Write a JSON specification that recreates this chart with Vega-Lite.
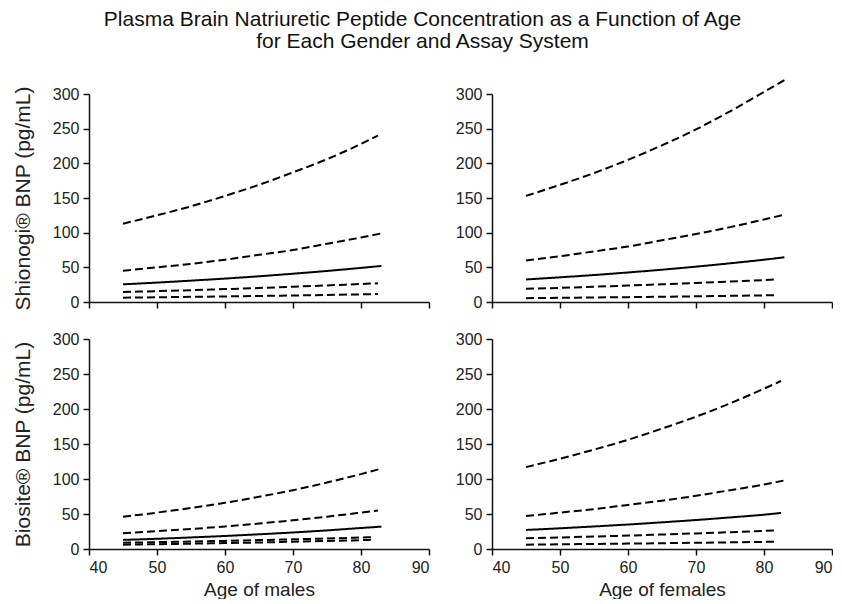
{
  "$schema": "https://vega.github.io/schema/vega-lite/v6.json",
  "padding": {"left": 12, "top": 9, "right": 0, "bottom": 0},
  "background": "white",
  "title": {
    "text": ["Plasma Brain Natriuretic Peptide Concentration as a Function of Age", "for Each Gender and Assay System"],
    "font": "Liberation Sans", "fontSize": 21, "fontWeight": "normal", "color": "#111",
    "anchor": "middle", "frame": "bounds", "lineHeight": 22, "offset": 24
  },
  "config": {
    "view": {"stroke": null},
    "axis": {
      "grid": false, "domainColor": "#111", "domainWidth": 1.5, "tickColor": "#111", "tickWidth": 1.5, "tickSize": 6,
      "labelColor": "#222", "labelFont": "Liberation Sans", "labelFontSize": 16, "labelPadding": 4,
      "titleFont": "Liberation Sans", "titleFontWeight": "normal", "titleColor": "#222"
    }
  },
  "data": {"values": [
    {"panel":"TL","s":"p5","age":45,"v":113},{"panel":"TL","s":"p5","age":50,"v":125},{"panel":"TL","s":"p5","age":55,"v":138},{"panel":"TL","s":"p5","age":60,"v":153},{"panel":"TL","s":"p5","age":65,"v":169},{"panel":"TL","s":"p5","age":70,"v":187},{"panel":"TL","s":"p5","age":75,"v":206},{"panel":"TL","s":"p5","age":80,"v":228},{"panel":"TL","s":"p5","age":82.5,"v":240},
    {"panel":"TL","s":"p4","age":45,"v":45},{"panel":"TL","s":"p4","age":50,"v":50},{"panel":"TL","s":"p4","age":55,"v":55},{"panel":"TL","s":"p4","age":60,"v":61},{"panel":"TL","s":"p4","age":65,"v":68},{"panel":"TL","s":"p4","age":70,"v":75},{"panel":"TL","s":"p4","age":75,"v":84},{"panel":"TL","s":"p4","age":80,"v":93},{"panel":"TL","s":"p4","age":83,"v":99},
    {"panel":"TL","s":"p3","age":45,"v":25.5},{"panel":"TL","s":"p3","age":50,"v":28},{"panel":"TL","s":"p3","age":55,"v":30.8},{"panel":"TL","s":"p3","age":60,"v":33.8},{"panel":"TL","s":"p3","age":65,"v":37.1},{"panel":"TL","s":"p3","age":70,"v":40.8},{"panel":"TL","s":"p3","age":75,"v":44.8},{"panel":"TL","s":"p3","age":80,"v":49.2},{"panel":"TL","s":"p3","age":83,"v":52},
    {"panel":"TL","s":"p2","age":45,"v":14.4},{"panel":"TL","s":"p2","age":50,"v":15.7},{"panel":"TL","s":"p2","age":55,"v":17},{"panel":"TL","s":"p2","age":60,"v":18.6},{"panel":"TL","s":"p2","age":65,"v":20.2},{"panel":"TL","s":"p2","age":70,"v":22},{"panel":"TL","s":"p2","age":75,"v":23.9},{"panel":"TL","s":"p2","age":80,"v":26},{"panel":"TL","s":"p2","age":82.5,"v":27},
    {"panel":"TL","s":"p1","age":45,"v":6.3},{"panel":"TL","s":"p1","age":50,"v":6.8},{"panel":"TL","s":"p1","age":55,"v":7.4},{"panel":"TL","s":"p1","age":60,"v":8},{"panel":"TL","s":"p1","age":65,"v":8.7},{"panel":"TL","s":"p1","age":70,"v":9.4},{"panel":"TL","s":"p1","age":75,"v":10.2},{"panel":"TL","s":"p1","age":80,"v":11},{"panel":"TL","s":"p1","age":82.5,"v":11.5},

    {"panel":"TR","s":"p5","age":45,"v":153},{"panel":"TR","s":"p5","age":50,"v":169},{"panel":"TR","s":"p5","age":55,"v":186},{"panel":"TR","s":"p5","age":60,"v":205},{"panel":"TR","s":"p5","age":65,"v":226},{"panel":"TR","s":"p5","age":70,"v":249},{"panel":"TR","s":"p5","age":75,"v":275},{"panel":"TR","s":"p5","age":80,"v":303},{"panel":"TR","s":"p5","age":83,"v":320},
    {"panel":"TR","s":"p4","age":45,"v":60},{"panel":"TR","s":"p4","age":50,"v":66},{"panel":"TR","s":"p4","age":55,"v":73},{"panel":"TR","s":"p4","age":60,"v":80},{"panel":"TR","s":"p4","age":65,"v":89},{"panel":"TR","s":"p4","age":70,"v":98},{"panel":"TR","s":"p4","age":75,"v":108},{"panel":"TR","s":"p4","age":80,"v":119},{"panel":"TR","s":"p4","age":83,"v":126},
    {"panel":"TR","s":"p3","age":45,"v":32.5},{"panel":"TR","s":"p3","age":50,"v":35.6},{"panel":"TR","s":"p3","age":55,"v":38.9},{"panel":"TR","s":"p3","age":60,"v":42.6},{"panel":"TR","s":"p3","age":65,"v":46.6},{"panel":"TR","s":"p3","age":70,"v":51},{"panel":"TR","s":"p3","age":75,"v":55.8},{"panel":"TR","s":"p3","age":80,"v":61},{"panel":"TR","s":"p3","age":83,"v":64.5},
    {"panel":"TR","s":"p2","age":45,"v":19},{"panel":"TR","s":"p2","age":50,"v":20.4},{"panel":"TR","s":"p2","age":55,"v":22},{"panel":"TR","s":"p2","age":60,"v":23.7},{"panel":"TR","s":"p2","age":65,"v":25.5},{"panel":"TR","s":"p2","age":70,"v":27.4},{"panel":"TR","s":"p2","age":75,"v":29.5},{"panel":"TR","s":"p2","age":80,"v":31.7},{"panel":"TR","s":"p2","age":82,"v":33},
    {"panel":"TR","s":"p1","age":45,"v":5.5},{"panel":"TR","s":"p1","age":50,"v":6},{"panel":"TR","s":"p1","age":55,"v":6.5},{"panel":"TR","s":"p1","age":60,"v":7},{"panel":"TR","s":"p1","age":65,"v":7.6},{"panel":"TR","s":"p1","age":70,"v":8.2},{"panel":"TR","s":"p1","age":75,"v":8.9},{"panel":"TR","s":"p1","age":80,"v":9.6},{"panel":"TR","s":"p1","age":82,"v":10},

    {"panel":"BL","s":"p5","age":45,"v":46},{"panel":"BL","s":"p5","age":50,"v":52},{"panel":"BL","s":"p5","age":55,"v":58.6},{"panel":"BL","s":"p5","age":60,"v":66},{"panel":"BL","s":"p5","age":65,"v":74.6},{"panel":"BL","s":"p5","age":70,"v":84},{"panel":"BL","s":"p5","age":75,"v":95},{"panel":"BL","s":"p5","age":80,"v":107},{"panel":"BL","s":"p5","age":83,"v":115},
    {"panel":"BL","s":"p4","age":45,"v":22.5},{"panel":"BL","s":"p4","age":50,"v":25.4},{"panel":"BL","s":"p4","age":55,"v":28.6},{"panel":"BL","s":"p4","age":60,"v":32.2},{"panel":"BL","s":"p4","age":65,"v":36.4},{"panel":"BL","s":"p4","age":70,"v":41},{"panel":"BL","s":"p4","age":75,"v":46.2},{"panel":"BL","s":"p4","age":80,"v":52},{"panel":"BL","s":"p4","age":82.5,"v":55},
    {"panel":"BL","s":"p3","age":45,"v":13},{"panel":"BL","s":"p3","age":50,"v":14.6},{"panel":"BL","s":"p3","age":55,"v":16.5},{"panel":"BL","s":"p3","age":60,"v":18.6},{"panel":"BL","s":"p3","age":65,"v":21},{"panel":"BL","s":"p3","age":70,"v":23.6},{"panel":"BL","s":"p3","age":75,"v":26.6},{"panel":"BL","s":"p3","age":80,"v":30},{"panel":"BL","s":"p3","age":83,"v":32},
    {"panel":"BL","s":"p2","age":45,"v":9},{"panel":"BL","s":"p2","age":50,"v":9.8},{"panel":"BL","s":"p2","age":55,"v":10.7},{"panel":"BL","s":"p2","age":60,"v":11.6},{"panel":"BL","s":"p2","age":65,"v":12.7},{"panel":"BL","s":"p2","age":70,"v":13.8},{"panel":"BL","s":"p2","age":75,"v":15},{"panel":"BL","s":"p2","age":80,"v":16.4},{"panel":"BL","s":"p2","age":82,"v":17},
    {"panel":"BL","s":"p1","age":45,"v":6.2},{"panel":"BL","s":"p1","age":50,"v":6.9},{"panel":"BL","s":"p1","age":55,"v":7.6},{"panel":"BL","s":"p1","age":60,"v":8.4},{"panel":"BL","s":"p1","age":65,"v":9.3},{"panel":"BL","s":"p1","age":70,"v":10.4},{"panel":"BL","s":"p1","age":75,"v":11.5},{"panel":"BL","s":"p1","age":80,"v":12.7},{"panel":"BL","s":"p1","age":82,"v":13.3},

    {"panel":"BR","s":"p5","age":45,"v":117},{"panel":"BR","s":"p5","age":50,"v":129},{"panel":"BR","s":"p5","age":55,"v":142},{"panel":"BR","s":"p5","age":60,"v":156},{"panel":"BR","s":"p5","age":65,"v":172},{"panel":"BR","s":"p5","age":70,"v":189},{"panel":"BR","s":"p5","age":75,"v":208},{"panel":"BR","s":"p5","age":80,"v":229},{"panel":"BR","s":"p5","age":82.5,"v":240},
    {"panel":"BR","s":"p4","age":45,"v":47},{"panel":"BR","s":"p4","age":50,"v":52},{"panel":"BR","s":"p4","age":55,"v":57},{"panel":"BR","s":"p4","age":60,"v":63},{"panel":"BR","s":"p4","age":65,"v":69},{"panel":"BR","s":"p4","age":70,"v":76},{"panel":"BR","s":"p4","age":75,"v":84},{"panel":"BR","s":"p4","age":80,"v":92},{"panel":"BR","s":"p4","age":83,"v":98},
    {"panel":"BR","s":"p3","age":45,"v":27.2},{"panel":"BR","s":"p3","age":50,"v":29.6},{"panel":"BR","s":"p3","age":55,"v":32.2},{"panel":"BR","s":"p3","age":60,"v":35},{"panel":"BR","s":"p3","age":65,"v":38.1},{"panel":"BR","s":"p3","age":70,"v":41.4},{"panel":"BR","s":"p3","age":75,"v":45.1},{"panel":"BR","s":"p3","age":80,"v":49},{"panel":"BR","s":"p3","age":82.5,"v":51.5},
    {"panel":"BR","s":"p2","age":45,"v":15.3},{"panel":"BR","s":"p2","age":50,"v":16.5},{"panel":"BR","s":"p2","age":55,"v":17.8},{"panel":"BR","s":"p2","age":60,"v":19.2},{"panel":"BR","s":"p2","age":65,"v":20.7},{"panel":"BR","s":"p2","age":70,"v":22.3},{"panel":"BR","s":"p2","age":75,"v":24},{"panel":"BR","s":"p2","age":80,"v":25.9},{"panel":"BR","s":"p2","age":82,"v":26.8},
    {"panel":"BR","s":"p1","age":45,"v":6.2},{"panel":"BR","s":"p1","age":50,"v":6.7},{"panel":"BR","s":"p1","age":55,"v":7.2},{"panel":"BR","s":"p1","age":60,"v":7.7},{"panel":"BR","s":"p1","age":65,"v":8.3},{"panel":"BR","s":"p1","age":70,"v":8.9},{"panel":"BR","s":"p1","age":75,"v":9.5},{"panel":"BR","s":"p1","age":80,"v":10.2},{"panel":"BR","s":"p1","age":82,"v":10.5}
  ]},
  "columns": 2,
  "spacing": {"row": 37, "column": 63},
  "bounds": "flush",
  "concat": [
    {
      "width": 340, "height": 208,
      "transform": [{"filter": "datum.panel === 'TL'"}],
      "mark": {"type": "line", "interpolate": "monotone", "color": "black"},
      "encoding": {
        "x": {"field": "age", "type": "quantitative", "scale": {"domain": [40, 90], "nice": false}, "axis": {"values": [40, 50, 60, 70, 80, 90], "labels": false, "title": null}},
        "y": {"field": "v", "type": "quantitative", "scale": {"domain": [0, 300], "nice": false}, "axis": {"values": [0, 50, 100, 150, 200, 250, 300], "title": "Shionogi® BNP (pg/mL)", "titleFontSize": 21, "titlePadding": 19}},
        "detail": {"field": "s"},
        "strokeDash": {"field": "s", "type": "nominal", "scale": {"domain": ["p1", "p2", "p3", "p4", "p5"], "range": [[8, 4], [8, 4], [1, 0], [8, 4], [8, 4]]}, "legend": null},
        "strokeWidth": {"field": "s", "type": "nominal", "scale": {"domain": ["p1", "p2", "p3", "p4", "p5"], "range": [2, 2, 3, 2, 2]}, "legend": null}
      }
    },
    {
      "width": 340, "height": 208,
      "transform": [{"filter": "datum.panel === 'TR'"}],
      "mark": {"type": "line", "interpolate": "monotone", "color": "black"},
      "encoding": {
        "x": {"field": "age", "type": "quantitative", "scale": {"domain": [40, 90], "nice": false}, "axis": {"values": [40, 50, 60, 70, 80, 90], "labels": false, "title": null}},
        "y": {"field": "v", "type": "quantitative", "scale": {"domain": [0, 300], "nice": false}, "axis": {"values": [0, 50, 100, 150, 200, 250, 300], "title": null}},
        "detail": {"field": "s"},
        "strokeDash": {"field": "s", "type": "nominal", "scale": {"domain": ["p1", "p2", "p3", "p4", "p5"], "range": [[8, 4], [8, 4], [1, 0], [8, 4], [8, 4]]}, "legend": null},
        "strokeWidth": {"field": "s", "type": "nominal", "scale": {"domain": ["p1", "p2", "p3", "p4", "p5"], "range": [2, 2, 3, 2, 2]}, "legend": null}
      }
    },
    {
      "width": 340, "height": 210,
      "transform": [{"filter": "datum.panel === 'BL'"}],
      "mark": {"type": "line", "interpolate": "monotone", "color": "black"},
      "encoding": {
        "x": {"field": "age", "type": "quantitative", "scale": {"domain": [40, 90], "nice": false}, "axis": {"values": [40, 50, 60, 70, 80, 90], "title": "Age of males", "titleFontSize": 19, "titlePadding": 5}},
        "y": {"field": "v", "type": "quantitative", "scale": {"domain": [0, 300], "nice": false}, "axis": {"values": [0, 50, 100, 150, 200, 250, 300], "title": "Biosite® BNP (pg/mL)", "titleFontSize": 21, "titlePadding": 19}},
        "detail": {"field": "s"},
        "strokeDash": {"field": "s", "type": "nominal", "scale": {"domain": ["p1", "p2", "p3", "p4", "p5"], "range": [[8, 4], [8, 4], [1, 0], [8, 4], [8, 4]]}, "legend": null},
        "strokeWidth": {"field": "s", "type": "nominal", "scale": {"domain": ["p1", "p2", "p3", "p4", "p5"], "range": [2, 2, 3, 2, 2]}, "legend": null}
      }
    },
    {
      "width": 340, "height": 210,
      "transform": [{"filter": "datum.panel === 'BR'"}],
      "mark": {"type": "line", "interpolate": "monotone", "color": "black"},
      "encoding": {
        "x": {"field": "age", "type": "quantitative", "scale": {"domain": [40, 90], "nice": false}, "axis": {"values": [40, 50, 60, 70, 80, 90], "title": "Age of females", "titleFontSize": 19, "titlePadding": 5}},
        "y": {"field": "v", "type": "quantitative", "scale": {"domain": [0, 300], "nice": false}, "axis": {"values": [0, 50, 100, 150, 200, 250, 300], "title": null}},
        "detail": {"field": "s"},
        "strokeDash": {"field": "s", "type": "nominal", "scale": {"domain": ["p1", "p2", "p3", "p4", "p5"], "range": [[8, 4], [8, 4], [1, 0], [8, 4], [8, 4]]}, "legend": null},
        "strokeWidth": {"field": "s", "type": "nominal", "scale": {"domain": ["p1", "p2", "p3", "p4", "p5"], "range": [2, 2, 3, 2, 2]}, "legend": null}
      }
    }
  ]
}
